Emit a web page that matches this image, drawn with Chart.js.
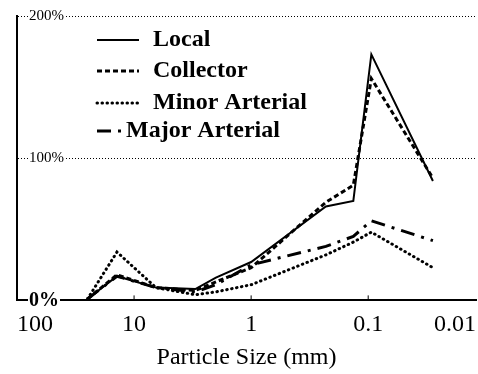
<!DOCTYPE html>
<html>
<head>
<meta charset="utf-8">
<script src="https://cdn.jsdelivr.net/npm/chart.js@4/dist/chart.umd.min.js"></script>
<style>
  html, body { margin: 0; padding: 0; background: #fff; }
</style>
</head>
<body>
<canvas id="chart" width="478" height="374"></canvas>
<script>
// particle sizes (mm) at the bends of the curves
const sizes = [25, 14, 6.5, 3, 2, 1, 0.23, 0.134, 0.094, 0.028];
// percent values per road class
const local = [1, 17, 9, 8, 16, 27, 66, 70, 173, 84];
const collector = [1, 18, 9, 7, 13, 23, 69, 81, 156, 86];
const minorArterial = [1, 34, 9, 4, 6, 11, 32, 41, 48, 23];
const majorArterial = [1, 17, 9, 6, 11, 25, 38, 45, 56, 42];
const seriesNames = ['Local', 'Collector', 'Minor Arterial', 'Major Arterial'];
const yTicks = [0, 100, 200];
const xTicks = [0.01, 0.1, 1, 10, 100];

Chart.defaults.font.family = "'Liberation Serif', 'Times New Roman', serif";
Chart.defaults.color = '#000';

function toPoints(vals) {
  return sizes.map((s, i) => ({ x: s, y: vals[i] }));
}

// legend drawn inside the plot, like the scan
const insideLegend = {
  id: 'insideLegend',
  afterDatasetsDraw(chart) {
    const ctx = chart.ctx;
    const rows = [40, 71, 103, 131];
    ctx.save();
    chart.data.datasets.forEach((ds, i) => {
      const y = rows[i];
      ctx.beginPath();
      ctx.setLineDash(ds.borderDash || []);
      ctx.lineCap = ds.borderCapStyle || 'butt';
      ctx.lineWidth = ds.borderWidth;
      ctx.strokeStyle = ds.borderColor;
      ctx.moveTo(97, y);
      ctx.lineTo(i === 3 ? 123 : 139, y);
      ctx.stroke();
      ctx.setLineDash([]);
      ctx.font = "bold 24px 'Liberation Serif'";
      ctx.fillStyle = '#000';
      ctx.textBaseline = 'middle';
      ctx.fillText(ds.label, i === 3 ? 126 : 153, y);
    });
    // small inward tick marks on the x axis
    const xs = chart.scales.x;
    const bottom = chart.chartArea.bottom;
    ctx.lineWidth = 1;
    ctx.strokeStyle = '#000';
    [10, 1, 0.1].forEach(v => {
      const px = xs.getPixelForValue(v);
      ctx.beginPath();
      ctx.moveTo(px, bottom);
      ctx.lineTo(px, bottom - 5);
      ctx.stroke();
    });
    ctx.restore();
  }
};

new Chart(document.getElementById('chart'), {
  type: 'line',
  data: {
    datasets: [
      { label: seriesNames[0], data: toPoints(local), borderColor: '#000', borderWidth: 2 },
      { label: seriesNames[1], data: toPoints(collector), borderColor: '#000', borderWidth: 3, borderDash: [5, 3] },
      { label: seriesNames[2], data: toPoints(minorArterial), borderColor: '#000', borderWidth: 3, borderDash: [0.5, 4.5], borderCapStyle: 'round' },
      { label: seriesNames[3], data: toPoints(majorArterial), borderColor: '#000', borderWidth: 3, borderDash: [14, 7, 3, 7] }
    ]
  },
  options: {
    responsive: false,
    animation: false,
    elements: { point: { radius: 0 }, line: { tension: 0 } },
    layout: { padding: { left: 17, right: 2, top: 16, bottom: 2 } },
    plugins: { legend: { display: false }, tooltip: { enabled: false } },
    scales: {
      x: {
        type: 'logarithmic',
        reverse: true,
        min: 0.012,
        max: 100,
        afterBuildTicks: axis => {
          axis.ticks = xTicks.map(v => ({ value: Math.max(v, axis.min) }));
        },
        afterFit: axis => {
          axis.paddingLeft = 0;
          axis.paddingRight = 0;
        },
        ticks: {
          align: 'inner',
          maxRotation: 0,
          autoSkip: false,
          padding: 10,
          font: { size: 24 },
          callback: (value, index) => String(xTicks[index])
        },
        grid: { display: false, drawTicks: false },
        border: { display: true, color: '#000', width: 2 },
        title: {
          display: true,
          text: 'Particle Size (mm)',
          font: { size: 24 },
          padding: { top: -6, bottom: 0 }
        }
      },
      y: {
        min: 0,
        max: 200,
        afterBuildTicks: axis => {
          axis.ticks = yTicks.map(v => ({ value: v }));
        },
        afterFit: axis => {
          axis.width = 0;
          axis.paddingTop = 0;
          axis.paddingBottom = 0;
        },
        ticks: {
          mirror: true,
          padding: 12,
          showLabelBackdrop: true,
          backdropColor: '#fff',
          backdropPadding: 1,
          font: ctx => (ctx.tick && ctx.tick.value === 0) ? { size: 20, weight: 'bold' } : { size: 15 },
          callback: v => v + '%'
        },
        grid: { color: '#000', lineWidth: 1, drawTicks: false },
        border: { display: true, color: '#000', width: 2, dash: [1, 2] }
      }
    }
  },
  plugins: [insideLegend]
});
</script>
</body>
</html>
